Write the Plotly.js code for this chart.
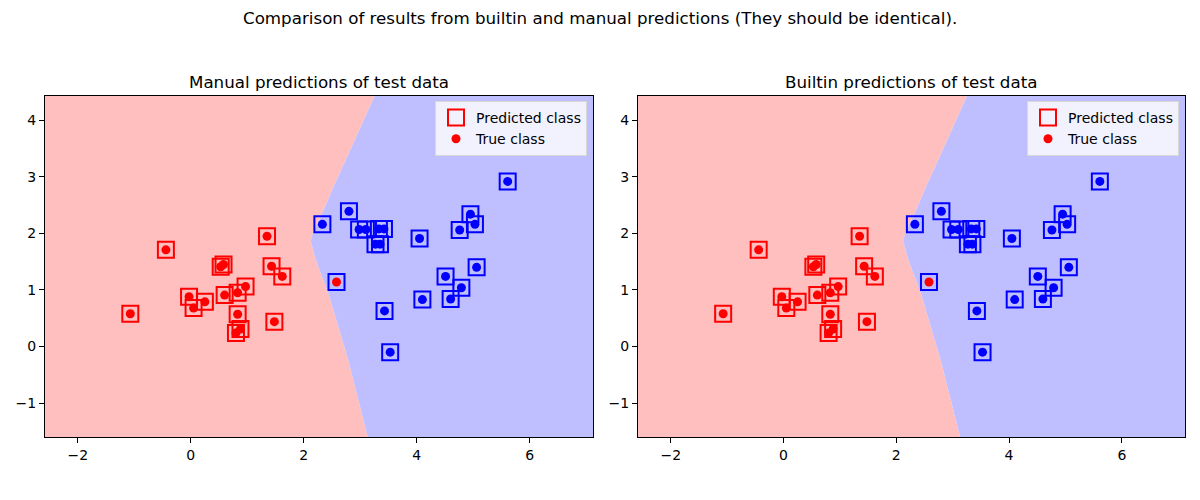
<!DOCTYPE html>
<html>
<head>
<meta charset="utf-8">
<script src="https://cdn.plot.ly/plotly-3.0.1.min.js"></script>
<style>html,body{margin:0;padding:0;background:#fff;}#chart{width:1200px;height:500px;}</style>
</head>
<body>
<div id="chart"></div>
<script>
// Test data points
const pointX = [-0.44, 1.35, 0.53, 0.58, 1.43, 1.62, 0.97, 0.83, 0.60, -0.03, 0.25, 0.05, -1.07, 0.83, 1.48, 0.88, 0.80, 2.58,
                2.33, 2.80, 2.98, 3.10, 3.33, 3.42, 3.27, 3.35, 4.05, 5.61, 4.95, 5.03, 4.76, 5.06, 4.51, 4.79, 4.60, 4.10, 3.43, 3.53];
const pointY = [1.71, 1.95, 1.41, 1.45, 1.42, 1.24, 1.06, 0.95, 0.91, 0.88, 0.79, 0.68, 0.58, 0.57, 0.44, 0.31, 0.24, 1.14,
                2.16, 2.39, 2.07, 2.07, 2.08, 2.08, 1.81, 1.81, 1.91, 2.92, 2.34, 2.16, 2.06, 1.40, 1.24, 1.04, 0.84, 0.83, 0.63, -0.10];
const trueClass = [0,0,0,0,0,0,0,0,0,0,0,0,0,0,0,0,0,0,
                   1,1,1,1,1,1,1,1,1,1,1,1,1,1,1,1,1,1,1,1];
const manualPred = [0,0,0,0,0,0,0,0,0,0,0,0,0,0,0,0,0,1,
                    1,1,1,1,1,1,1,1,1,1,1,1,1,1,1,1,1,1,1,1];
const builtinPred = manualPred.slice();

// Decision boundary (x position of boundary at each y)
const boundaryY = [4.42, 3.88, 3.29, 2.88, 2.41, 2.06, 1.88, 1.58, 1.35, 0.93, 0.34, -0.25, -0.84, -1.55];
const boundaryX = [3.25, 3.01, 2.74, 2.55, 2.35, 2.18, 2.12, 2.20, 2.28, 2.44, 2.61, 2.79, 2.94, 3.12];

const xRange = [-2.58, 7.12];
const yRange = [-1.60, 4.43];
const classColors = ['#ff0000', '#0000ff'];
const regionColors = ['#ffbfbf', '#bfbfff'];

const FONT = 'DejaVu Sans, sans-serif';

function traces(pred, xa, ya, leg) {
  const n = boundaryY.length;
  const yTop = yRange[1] + 0.5, yBot = yRange[0] - 0.5;
  const xL = xRange[0] - 0.5, xR = xRange[1] + 0.5;
  // extend boundary ends linearly beyond the plot area
  const sTop = (boundaryX[0] - boundaryX[1]) / (boundaryY[0] - boundaryY[1]);
  const sBot = (boundaryX[n-1] - boundaryX[n-2]) / (boundaryY[n-1] - boundaryY[n-2]);
  const bx = [boundaryX[0] + sTop * (yTop - boundaryY[0])].concat(boundaryX).concat([boundaryX[n-1] + sBot * (yBot - boundaryY[n-1])]);
  const by = [yTop].concat(boundaryY).concat([yBot]);
  const redX = [xL].concat(bx).concat([xL]);
  const redY = [yTop].concat(by).concat([yBot]);
  const blueX = [xR].concat(bx).concat([xR]);
  const blueY = [yTop].concat(by).concat([yBot]);
  return [
    {x: redX, y: redY, xaxis: xa, yaxis: ya, mode: 'lines', fill: 'toself', fillcolor: regionColors[0],
     line: {width: 0, color: regionColors[0]}, showlegend: false, hoverinfo: 'skip'},
    {x: blueX, y: blueY, xaxis: xa, yaxis: ya, mode: 'lines', fill: 'toself', fillcolor: regionColors[1],
     line: {width: 0, color: regionColors[1]}, showlegend: false, hoverinfo: 'skip'},
    {x: pointX, y: pointY, xaxis: xa, yaxis: ya, mode: 'markers', name: 'True class', legend: leg, legendrank: 2,
     marker: {symbol: 'circle', size: 9, color: trueClass.map(c => classColors[c]), line: {width: 0}}},
    {x: pointX, y: pointY, xaxis: xa, yaxis: ya, mode: 'markers', name: 'Predicted class', legend: leg, legendrank: 1,
     marker: {symbol: 'square-open', size: 16, color: pred.map(c => classColors[c]), line: {width: 2}}}
  ];
}

const data = traces(manualPred, 'x', 'y', 'legend').concat(traces(builtinPred, 'x2', 'y2', 'legend2'));

function axis(domain, anchor, range, dtick) {
  return {domain: domain, anchor: anchor, range: range, dtick: dtick, tick0: 0, showgrid: false, zeroline: false,
    showline: true, mirror: true, linecolor: '#000', linewidth: 1, ticks: 'outside', ticklen: 5, tickwidth: 1,
    tickcolor: '#000', tickfont: {family: FONT, size: 14, color: '#000'}, fixedrange: true};
}

const yDom = [63/500, 404/500];
const legendStyle = (x) => ({x: x, y: 1 - 101/500, xanchor: 'right', yanchor: 'top', xref: 'paper', yref: 'paper',
  bgcolor: 'rgba(255,255,255,0.8)', bordercolor: '#d8d8d8', borderwidth: 1,
  font: {family: FONT, size: 14, color: '#000'}, tracegroupgap: 0, itemwidth: 30});

const layout = {
  width: 1200, height: 500, margin: {l: 0, r: 0, t: 0, b: 0},
  paper_bgcolor: '#fff', plot_bgcolor: '#fff', showlegend: true,
  xaxis: axis([45/1200, 593/1200], 'y', xRange, 2),
  yaxis: axis(yDom, 'x', yRange, 1),
  xaxis2: axis([638/1200, 1185/1200], 'y2', xRange, 2),
  yaxis2: axis(yDom, 'x2', yRange, 1),
  legend: legendStyle(587/1200),
  legend2: legendStyle(1179/1200),
  annotations: [
    {text: 'Comparison of results from builtin and manual predictions (They should be identical).', x: 0.5, y: 1 - 18/500,
     xref: 'paper', yref: 'paper', showarrow: false, xanchor: 'center', yanchor: 'middle', font: {family: FONT, size: 16.7, color: '#000'}},
    {text: 'Manual predictions of test data', x: 319/1200, y: 1 - 82/500, xref: 'paper', yref: 'paper', showarrow: false,
     xanchor: 'center', yanchor: 'middle', font: {family: FONT, size: 16.7, color: '#000'}},
    {text: 'Builtin predictions of test data', x: 911/1200, y: 1 - 82/500, xref: 'paper', yref: 'paper', showarrow: false,
     xanchor: 'center', yanchor: 'middle', font: {family: FONT, size: 16.7, color: '#000'}}
  ]
};

Plotly.newPlot('chart', data, layout, {displayModeBar: false, staticPlot: true});
</script>
</body>
</html>
